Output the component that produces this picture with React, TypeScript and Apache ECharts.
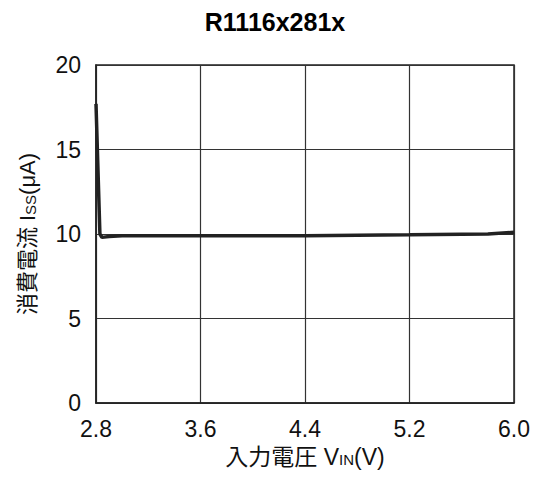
import React, { useEffect, useRef } from "react";
import * as echarts from "echarts";

const TITLE = "R1116x281x";
const X_TICKS = [2.8, 3.6, 4.4, 5.2, 6.0];
const Y_TICKS = [0, 5, 10, 15, 20];
const VIN = [2.8, 2.83, 2.845, 2.9, 3.0, 3.6, 4.4, 5.2, 5.8, 6.0];
const ISS = [17.7, 10.0, 9.8, 9.85, 9.9, 9.9, 9.9, 9.95, 10.0, 10.1];

export default function App() {
  const ref = useRef<HTMLDivElement>(null);
  useEffect(() => {
    document.body.style.margin = "0";
    if (!ref.current) return;
    const chart = echarts.init(ref.current, undefined, { renderer: "svg" });
    const font = "'Liberation Sans', 'Noto Sans CJK JP', Arial, sans-serif";
    chart.setOption({
      animation: false,
      backgroundColor: "#fff",
      graphic: [
        {
          type: "text",
          x: 275,
          y: 9,
          style: {
            text: TITLE,
            font: "bold 25px " + font,
            fill: "#000",
            textAlign: "center",
          },
        },
      ],
      grid: { left: 96, right: 26, top: 65, bottom: 76, show: true, borderColor: "#222", borderWidth: 1.5 },
      xAxis: {
        type: "value",
        min: X_TICKS[0],
        max: X_TICKS[X_TICKS.length - 1],
        interval: 0.8,
        name: "{a|入力電圧 V}{b|IN}{a|(V)}",
        nameLocation: "middle",
        nameGap: 42,
        nameTextStyle: {
          color: "#000",
          rich: {
            a: { fontSize: 23, fontFamily: font, color: "#111" },
            b: { fontSize: 15, fontFamily: font, color: "#111", padding: [6, 0, 0, 0] },
          },
        },
        axisLine: { show: true, lineStyle: { color: "#222", width: 1.5 } },
        axisTick: { show: false },
        axisLabel: { fontSize: 23, fontFamily: font, color: "#111", margin: 14, formatter: (v: number) => v.toFixed(1) },
        splitLine: { show: true, lineStyle: { color: "#333", width: 1.2 } },
      },
      yAxis: {
        type: "value",
        min: Y_TICKS[0],
        max: Y_TICKS[Y_TICKS.length - 1],
        interval: 5,
        name: "{a|消費電流 I}{b|SS}{a|(μA)}",
        nameLocation: "middle",
        nameGap: 58,
        nameTextStyle: {
          color: "#000",
          rich: {
            a: { fontSize: 22, fontFamily: font, color: "#111" },
            b: { fontSize: 15, fontFamily: font, color: "#111", padding: [6, 0, 0, 0] },
          },
        },
        axisLine: { show: true, lineStyle: { color: "#222", width: 1.5 } },
        axisTick: { show: false },
        axisLabel: { fontSize: 23, fontFamily: font, color: "#111", margin: 15 },
        splitLine: { show: true, lineStyle: { color: "#333", width: 1.2 } },
      },
      series: [
        {
          type: "line",
          data: VIN.map((v, i) => [v, ISS[i]]),
          showSymbol: false,
          lineStyle: { color: "#222", width: 3.5 },
        },
      ],
    });
    return () => chart.dispose();
  }, []);
  return <div ref={ref} style={{ width: 540, height: 479 }} />;
}
